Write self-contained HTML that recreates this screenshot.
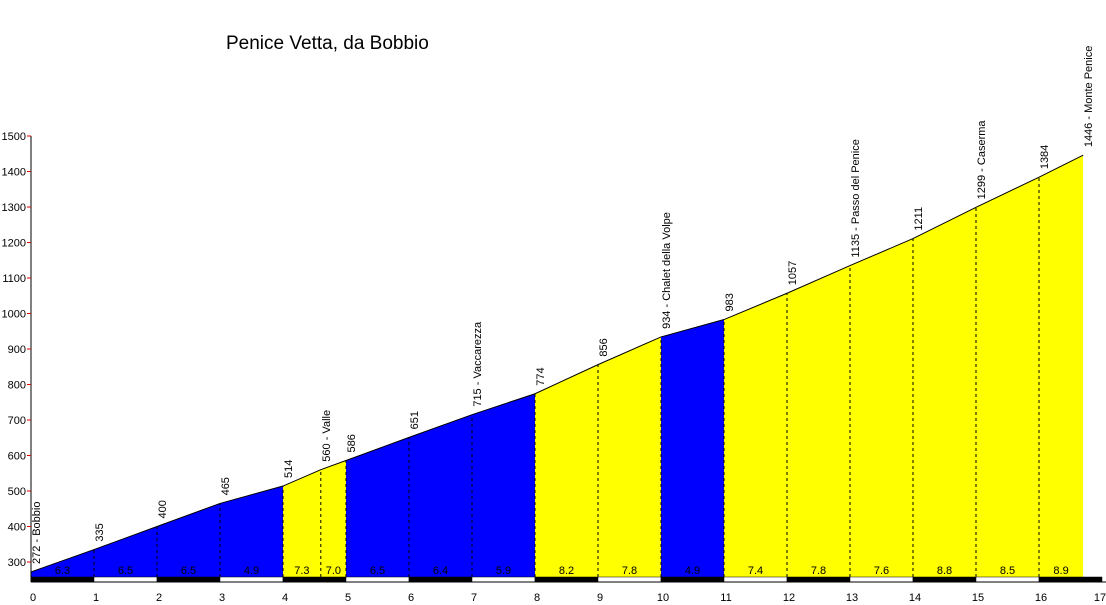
<!DOCTYPE html>
<html><head><meta charset="utf-8"><style>
body{margin:0;background:#fff;}
svg{display:block;font-family:"Liberation Sans",Arial,sans-serif;}
</style></head><body>
<svg id="c" width="1106" height="605">
<text x="226" y="49" font-size="19">Penice Vetta, da Bobbio</text>
</svg>
<script>
const kms=[0,1,2,3,4,4.6,5,6,7,8,9,10,11,12,13,14,15,16,16.7];
const elev=[272,335,400,465,514,560,586,651,715,774,856,934,983,1057,1135,1211,1299,1384,1446];
const names=["Bobbio","","","","","Valle","","","Vaccarezza","","","Chalet della Volpe","","","Passo del Penice","","Caserma","","Monte Penice"];
const grades=["6.3","6.5","6.5","4.9","7.3","7.0","6.5","6.4","5.9","8.2","7.8","4.9","7.4","7.8","7.6","8.8","8.5","8.9"];
const segColors=["b","b","b","b","y","y","b","b","b","y","y","b","y","y","y","y","y","y"];
const yTicks=[300,400,500,600,700,800,900,1000,1100,1200,1300,1400,1500];
const xTicks=[0,1,2,3,4,5,6,7,8,9,10,11,12,13,14,15,16,17];
const NS="http://www.w3.org/2000/svg",svg=document.getElementById('c');
const X=k=>31+63*k, Y=v=>491+(500-v)*0.355, BASE=577;
function mk(t,a,p){const e=document.createElementNS(NS,t);for(const k in a)e.setAttribute(k,a[k]);(p||svg).appendChild(e);return e;}
for(let i=0;i<kms.length-1;i++){
 const p=mk('polygon',{points:`${X(kms[i])},${BASE} ${X(kms[i])},${Y(elev[i])} ${X(kms[i+1])},${Y(elev[i+1])} ${X(kms[i+1])},${BASE}`,fill:segColors[i]=="b"?"#0000ff":"#ffff00"});
 
 
 const t=mk('text',{x:(X(kms[i])+X(kms[i+1]))/2,y:574,'font-size':11,'text-anchor':'middle'});
 t.textContent=grades[i];
 
 
}
const line=mk('polyline',{points:kms.map((k,i)=>X(k)+","+Y(elev[i])).join(" "),fill:"none",stroke:"#000","stroke-width":1});


kms.forEach((k,i)=>{
 if(i>0&&i<kms.length-1){const d=mk('line',{x1:X(k),x2:X(k),y1:BASE,y2:Y(elev[i]),stroke:"#000","stroke-dasharray":"3,3"});
 
 }
 const tx=X(k)+9,ty=Y(elev[i])-8;
 const t=mk('text',{x:tx,y:ty,'font-size':11,transform:`rotate(-90 ${tx} ${ty})`});
 t.textContent=elev[i]+(names[i]?" - "+names[i]:"");
 
 
});
for(let i=0;i<17;i++){const r=mk('rect',{x:X(i),y:577,width:63,height:5,fill:i%2?"#fff":"#000",stroke:"#000","stroke-width":0.5});
 
 }
const ax=mk('line',{x1:31,x2:31,y1:136,y2:582,stroke:"#000"});


const bx=mk('line',{x1:31,x2:1106,y1:582,y2:582,stroke:"#000"});


yTicks.forEach(v=>{
 const tk=mk('line',{x1:27,x2:31,y1:Y(v),y2:Y(v),stroke:"#d00"});
 
 
 const t=mk('text',{x:26,y:Y(v)+4,'font-size':11,'text-anchor':'end'});
 t.textContent=v;
 
 
});
xTicks.forEach(k=>{
 const t=mk('text',{x:Math.min(X(k),1098)+2,y:601,'font-size':11,'text-anchor':'middle'});
 t.textContent=k;
 
 
});
</script>
</body></html>
